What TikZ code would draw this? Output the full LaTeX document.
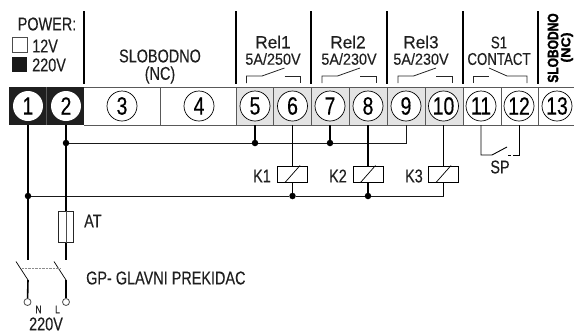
\documentclass[tikz,border=0pt]{standalone}
\usepackage{fontspec}
\setmainfont[FakeStretch=0.78,FakeBold=0.25]{Liberation Sans}
\newfontfamily\wideF[FakeStretch=0.98,FakeBold=0.25]{Liberation Sans}
\newfontfamily\midF[FakeStretch=0.9,FakeBold=0.25]{Liberation Sans}
\newfontfamily\boldcond[FakeStretch=0.8,FakeBold=1.5]{Liberation Sans Bold}
\newfontfamily\boldwide[FakeStretch=1.1,FakeBold=1.5]{Liberation Sans Bold}
\begin{document}
\begin{tikzpicture}[x=1pt,y=-1pt,
  lbl/.style={inner sep=0pt,font=\fontsize{18.5}{18.5}\selectfont,text=black!88},
  scap/.style={inner sep=0pt,font=\fontsize{17}{17}\selectfont,text=black!88},
  rell/.style={inner sep=0pt,font=\wideF\fontsize{17.5}{18}\selectfont,text=black!88},
  sml/.style={inner sep=0pt,font=\midF\fontsize{16}{17}\selectfont,text=black!88},
  tiny/.style={inner sep=0pt,font=\fontsize{11}{11}\selectfont,text=black!85},
  cell/.style={draw=black!65,line width=1pt},
  numc/.style={circle,draw=black,line width=0.7pt,fill=white,minimum size=30pt,inner sep=0pt,font=\fontsize{25}{25}\selectfont},
  numb/.style={circle,fill=white,minimum size=30pt,inner sep=0pt,font=\fontsize{25}{25}\selectfont},
  sep/.style={line width=1.5pt,black},
  wire/.style={line width=1.6pt,black},
  hwire/.style={line width=1pt,black!90},
  thin wire/.style={line width=0.9pt,black},
  contact/.style={line width=0.8pt,black!85},
  coil/.style={draw=black,line width=1pt,fill=white,minimum width=30pt,minimum height=16pt,inner sep=0pt},
  dot/.style={circle,fill=black,inner sep=0pt,minimum size=6.5pt},
  term/.style={circle,draw=black!70,line width=0.8pt,fill=white,inner sep=0pt,minimum size=7pt}
]
\useasboundingbox (0,0) rectangle (574,333);
% terminal row
\fill[black!88] (9,87) rectangle (84,125);
\fill[black!11] (236,87) rectangle (463,125);
\draw[cell] (84,87) -- (574,87) (84,125) -- (574,125);
\foreach \x in {160,236,273,311,349,387,425,463,501,538} \draw[cell] (\x,87) -- (\x,125);
\draw[black!65,line width=0.6pt] (46.5,87) -- (46.5,125);
% terminals
\foreach \n/\x in {3/122,4/199,5/255,6/292.5,7/330,8/368,9/406,10/443.5,11/481,12/519,13/557}
  \node[numc] (t\n) at (\x,106) {\n};
\foreach \n/\x in {1/28,2/66}
  \node[numb] (t\n) at (\x,106) {\n};
% top separators
\foreach \x in {84,236,311,387,463,538} \draw[sep] (\x,11) -- (\x,84);
% power block
\node[lbl] (power) at (47,24) {POWER:};
\node[draw=black!70,line width=0.7pt,minimum width=15pt,minimum height=15pt,inner sep=0pt] (sq12) at (19.5,45) {};
\node[fill=black!90,minimum width=15pt,minimum height=15pt,inner sep=0pt] (sq220) at (19.5,64) {};
\node[lbl,anchor=west] (v12) at (32,46) {12V};
\node[lbl,anchor=west] (v220) at (32,65) {220V};
\node[lbl] (slob) at (160,56) {SLOBODNO};
\node[lbl] (nc) at (160,75) {(NC)};
% relays
\node[rell] (rel1) at (273,42) {Rel1};
\node[rell] (rel2) at (348,42) {Rel2};
\node[rell] (rel3) at (421,42) {Rel3};
\node[scap] (s1) at (499,42.5) {S1};
\node[sml] (r1a) at (273,59) {5A/250V};
\node[sml] (r2a) at (349,59) {5A/230V};
\node[sml] (r3a) at (421,59) {5A/230V};
\node[scap] (con) at (499,59) {CONTACT};
\foreach \d in {0,75.5,151.5}{
  \draw[contact] (246.5+\d,83) -- (246.5+\d,76) -- (262+\d,76) -- (284.5+\d,68);
  \draw[contact] (284.5+\d,76) -- (300.5+\d,76) -- (300.5+\d,83);
}
\draw[contact] (473,83) -- (473,76) -- (489,76);
\draw[contact] (489,68) -- (507,76) -- (527,76) -- (527,83);
\node[inner sep=0pt,rotate=90,font=\boldcond\fontsize{15}{15}\selectfont] (slob2) at (553,48) {SLOBODNO};
\node[inner sep=0pt,rotate=90,font=\boldwide\fontsize{13}{13}\selectfont] (nc2) at (567,47.5) {(NC)};
% coordinates
\foreach \n/\x in {1/28,2/66,5/255,6/292.5,7/330,8/368,9/406,10/443.5,11/481,12/519}
  \coordinate (w\n) at (\x,125);
\node[dot] (j1) at (28,196) {};
\node[dot] (j2) at (66,143) {};
\node[dot] (j5) at (255,143) {};
\node[dot] (j7) at (330,143) {};
\coordinate (j9) at (406,143);
\node[dot] (j6) at (292.5,196) {};
\node[dot] (j8) at (368,196) {};
\coordinate (j10) at (443.5,196);
\node[coil] (k1) at (292.5,174) {};
\node[coil] (k2) at (368,174) {};
\node[coil] (k3) at (443.5,174) {};
\foreach \k in {k1,k2,k3} \draw[line width=0.7pt] ([xshift=-7.5pt]\k.south) -- ([xshift=7.5pt]\k.north);
\node[lbl,anchor=east] (lk1) at (271,176) {K1};
\node[lbl,anchor=east] (lk2) at (347,176) {K2};
\node[lbl,anchor=east] (lk3) at (423,176) {K3};
% wires
\draw[wire] (w1) -- (j1);
\draw[wire] (w2) -- (j2);
\draw[hwire] (j2) -- (j5) -- (j7) -- (j9) -- (w9);
\draw[wire] (w5) -- (j5);
\draw[wire] (w7) -- (j7);
\draw[hwire] (j1) -- (j6) -- (j8) -- (j10);
\draw[wire] (w6) -- (k1.north);
\draw[wire] (k1.south) -- (j6);
\draw[wire] (w8) -- (k2.north);
\draw[wire] (k2.south) -- (j8);
\draw[thin wire] (w10) -- (k3.north);
\draw[thin wire] (k3.south) -- (j10);
% SP
\coordinate (sp1) at (481,155);
\coordinate (sp2) at (492,155);
\coordinate (sp3) at (507,147);
\coordinate (sp4) at (519,155);
\draw[thin wire] (w11) -- (sp1) -- (sp2) -- (sp3);
\draw[thin wire] (508,155) -- (511,155);
\draw[thin wire] (513,155) -- (sp4) -- (w12);
\node[lbl] (sp) at (500,167) {SP};
% left side
\node[draw=black!85,line width=0.8pt,fill=white,minimum width=15pt,minimum height=31pt,inner sep=0pt] (fuse) at (65.5,227) {};
\node[lbl,anchor=west] (at) at (84,221) {AT};
\coordinate (s1t) at (28,260);
\coordinate (s2t) at (66,260);
\coordinate (s1a) at (16,261.5);
\coordinate (s2a) at (54,261.5);
\coordinate (s1b) at (28,280);
\coordinate (s2b) at (66,280);
\node[term] (n) at (27.5,302) {};
\node[term] (l) at (66,302) {};
\draw[wire] (j1) -- (s1t);
\draw[wire] (j2) -- (fuse.north -| w2);
\draw[wire] (fuse.south -| w2) -- (s2t);
\draw[line width=0.5pt,black!70] (fuse.north -| w2) -- (fuse.south -| w2);
\draw[line width=0.7pt] (s1a) -- (s1b);
\draw[line width=0.7pt] (s2a) -- (s2b);
\draw[wire] (s1b) -- (n);
\draw[wire] (s2b) -- (l);
\draw[black!45,line width=0.4pt,densely dotted] (22,268.5) -- (60,268.5);
\node[tiny] (ln) at (38.5,309.5) {N};
\node[tiny] (ll) at (57.5,309.5) {L};
\node[lbl] (v) at (46,324) {220V};
\node[lbl,anchor=west] (gp) at (86,278) {GP- GLAVNI PREKIDAC};
\end{tikzpicture}
\end{document}
